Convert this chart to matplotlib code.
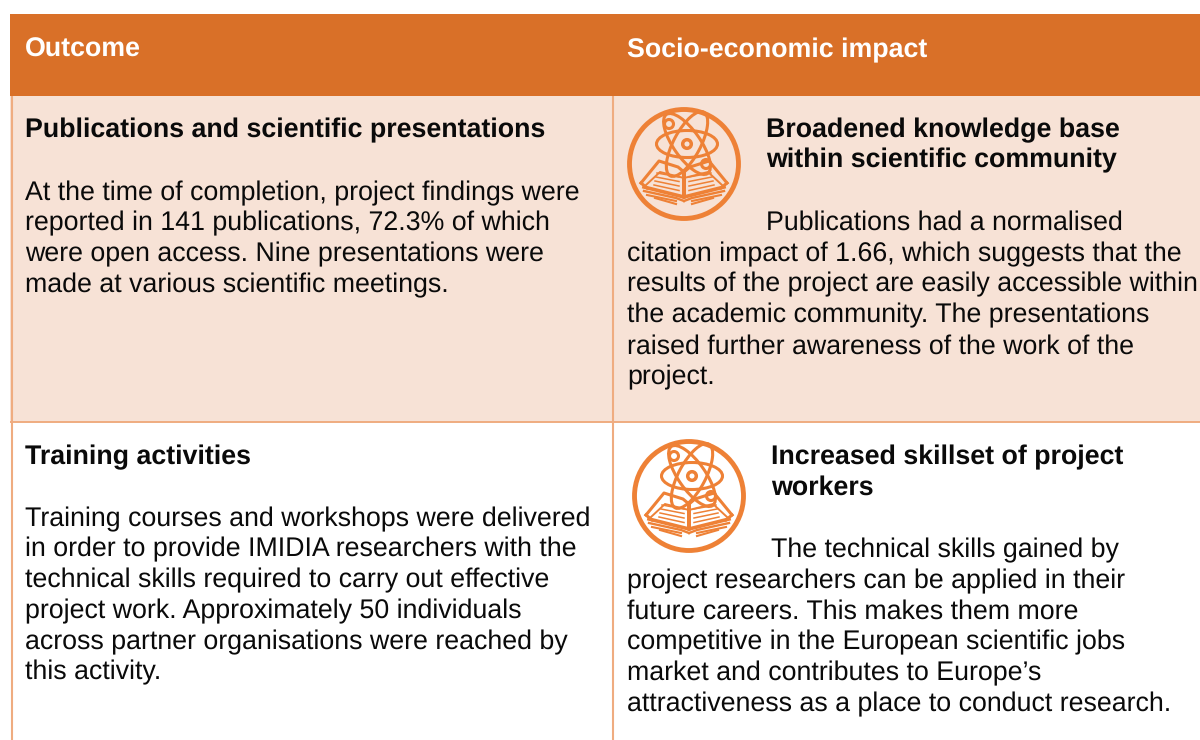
#!/usr/bin/env python
# coding: utf-8

import matplotlib
matplotlib.use('Agg')
import matplotlib.pyplot as plt
from matplotlib.patches import Rectangle, Circle, Ellipse

plt.rcParams['font.family'] = ['Liberation Sans', 'DejaVu Sans']
plt.rcParams['text.hinting'] = 'no_hinting'

headers = ['Outcome', 'Socio-economic impact']

left_1_title = ['Publications and scientific presentations']
left_1_body = ['At the time of completion, project findings were',
               'reported in 141 publications, 72.3% of which',
               'were open access. Nine presentations were',
               'made at various scientific meetings.']
right_1_title = ['Broadened knowledge base', 'within scientific community']
right_1_first = 'Publications had a normalised'
right_1_body = ['citation impact of 1.66, which suggests that the',
                'results of the project are easily accessible within',
                'the academic community. The presentations',
                'raised further awareness of the work of the',
                'project.']

left_2_title = ['Training activities']
left_2_body = ['Training courses and workshops were delivered',
               'in order to provide IMIDIA researchers with the',
               'technical skills required to carry out effective',
               'project work. Approximately 50 individuals',
               'across partner organisations were reached by',
               'this activity.']
right_2_title = ['Increased skillset of project', 'workers']
right_2_first = 'The technical skills gained by'
right_2_body = ['project researchers can be applied in their',
                'future careers. This makes them more',
                'competitive in the European scientific jobs',
                'market and contributes to Europe\u2019s',
                'attractiveness as a place to conduct research.']

header_col = '#D97028'
row_col = '#F7E2D6'
line_col = '#EFAC80'
icon_col = '#EE8136'
fs = 19.25
step = 30.75


def put_lines(ax, x, y, lines, weight='normal'):
    for i, s in enumerate(lines):
        ax.text(x, y + i * step, s, fontsize=fs, fontweight=weight, color='#0A0A0A', va='baseline')


def draw_icon(ax, cx, cy, bg):
    lw = 2.2
    ax.add_patch(Circle((cx, cy), 54.5, fc='none', ec=icon_col, lw=3.5))
    # book, mirrored about the spine
    for sgn in [-1, 1]:
        xs = [-43, -25, -6, 0]
        ys = [19, -3, 3, 8]
        ax.plot([cx + sgn * v for v in xs], [cy + v for v in ys], color=icon_col, lw=lw)
        ax.plot([cx - sgn * 43, cx - sgn * 37], [cy + 19, cy + 24], color=icon_col, lw=lw)
        ax.plot([cx + sgn * 38, cx + sgn * 24, cx], [cy + 21, cy + 8, cy + 14], color=icon_col, lw=1.4)
        ax.plot([cx + sgn * 40, cx + sgn * 8, cx], [cy + 23, cy + 31, cy + 33], color=icon_col, lw=2.6)
        ax.plot([cx + sgn * 40, cx + sgn * 8, cx], [cy + 27, cy + 34, cy + 37], color=icon_col, lw=1.7)
        ax.plot([cx + sgn * 37, cx + sgn * 8], [cy + 31, cy + 37], color=icon_col, lw=1.5)
        ax.plot([cx + sgn * 29, cx + sgn * 8], [cy + 34, cy + 40], color=icon_col, lw=1.5)
        for k in range(4):
            ax.plot([cx + sgn * (27 + k), cx + sgn * 5], [cy + 9 + k * 4, cy + 13 + k * 4.5],
                    color=icon_col, lw=1.1)
    ax.add_patch(Rectangle((cx - 2, cy + 7), 4, 27, fc=icon_col, ec='none'))
    # atom
    ax_x = cx + 3
    ax_y = cy - 20
    for w, h, ang in [(61, 27, 0), (72, 27, 55), (72, 27, 118)]:
        ax.add_patch(Ellipse((ax_x, ax_y), w, h, angle=ang, fc='none', ec=icon_col, lw=lw))
    ax.add_patch(Circle((ax_x, ax_y), 4.3, fc='none', ec=icon_col, lw=lw + 0.3))
    ax.add_patch(Circle((ax_x - 18, ax_y - 20), 4.5, fc=bg, ec=icon_col, lw=lw))
    ax.add_patch(Circle((ax_x + 19, ax_y + 20), 4.5, fc=bg, ec=icon_col, lw=lw))


fig = plt.figure(figsize=(12, 7.4), dpi=100)
ax = fig.add_axes([0, 0, 1, 1])
ax.set_xlim(0, 1200)
ax.set_ylim(740, 0)
ax.axis('off')

# table cells
ax.add_patch(Rectangle((10, 96), 1190, 326, fc=row_col, ec='none'))
ax.plot([10, 1200], [422, 422], color=line_col, lw=1.4, solid_capstyle='butt')
for x in [11.5, 612.5]:
    ax.plot([x, x], [96, 740], color=line_col, lw=1.5, solid_capstyle='butt')
ax.add_patch(Rectangle((10, 14), 1190, 82, fc=header_col, ec='none', zorder=3))

ax.text(25, 57, headers[0], fontsize=fs, fontweight='bold', color='white', va='baseline', zorder=4)
ax.text(627, 57, headers[1], fontsize=fs, fontweight='bold', color='white', va='baseline', zorder=4)

put_lines(ax, 25, 137, left_1_title, 'bold')
put_lines(ax, 25, 200, left_1_body)
put_lines(ax, 766, 137, right_1_title, 'bold')
put_lines(ax, 766, 230, [right_1_first])
put_lines(ax, 627, 261, right_1_body)

put_lines(ax, 25, 464, left_2_title, 'bold')
put_lines(ax, 25, 526, left_2_body)
put_lines(ax, 771, 464, right_2_title, 'bold')
put_lines(ax, 771, 557, [right_2_first])
put_lines(ax, 627, 588, right_2_body)

draw_icon(ax, 684, 164, row_col)
draw_icon(ax, 689, 496, 'white')

fig.savefig('out.png', dpi=100)
